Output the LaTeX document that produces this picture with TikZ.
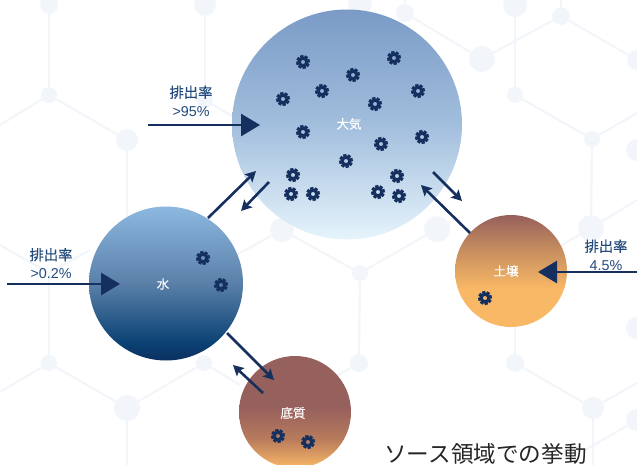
\documentclass[tikz,border=0pt]{standalone}
\usepackage{fontspec}
\setmainfont{Liberation Sans}
\newfontfamily\cjk{Noto Sans CJK JP}
\newfontfamily\cjkb[FakeBold=0.12]{Noto Sans CJK JP}
\usetikzlibrary{arrows.meta,positioning}
\definecolor{airtop}{HTML}{7A9BC6}
\definecolor{airmid}{HTML}{A2BEDD}
\definecolor{airbot}{HTML}{E6F4FB}
\definecolor{watertop}{HTML}{8DB8E0}
\definecolor{watermid}{HTML}{5A80A8}
\definecolor{waterlow}{HTML}{0B4274}
\definecolor{waterbot}{HTML}{0C2F62}
\definecolor{clay}{HTML}{96605C}
\definecolor{soilmid}{HTML}{C48C5E}
\definecolor{sedmid}{HTML}{B87B5C}
\definecolor{sandy}{HTML}{F9B866}
\definecolor{navy}{HTML}{152F5F}
\definecolor{labelblue}{HTML}{234A7C}
\definecolor{hexgrey}{HTML}{F2F5F9}
\pgfdeclareverticalshading{airfade}{100bp}{color(0bp)=(airbot); color(25bp)=(airbot); color(50bp)=(airmid); color(75bp)=(airtop); color(100bp)=(airtop)}
\pgfdeclareverticalshading{waterfade}{100bp}{color(0bp)=(waterbot); color(25bp)=(waterbot); color(31bp)=(waterlow); color(50bp)=(watermid); color(75bp)=(watertop); color(100bp)=(watertop)}
\pgfdeclareverticalshading{soilfade}{100bp}{color(0bp)=(sandy); color(42bp)=(sandy); color(60bp)=(soilmid); color(75bp)=(clay); color(100bp)=(clay)}
\pgfdeclareverticalshading{sedfade}{100bp}{color(0bp)=(sandy); color(25bp)=(sandy); color(38bp)=(sedmid); color(52bp)=(clay); color(100bp)=(clay)}
\tikzset{particle/.pic={
\foreach \ang in {0,45,...,315}
  \fill[navy,rotate=\ang+12] (-1.7,3.5) rectangle (1.7,6.9);
\fill[navy,even odd rule] (0,0) circle (5.3) (0,0) circle (2.1);
}}
\begin{document}
\begin{tikzpicture}[x=1pt,y=-1pt,>=Stealth]
\tikzstyle{hexdot}=[circle,fill=hexgrey,inner sep=0pt]
\tikzstyle{hexline}=[draw=hexgrey,line width=2pt]
\tikzstyle{sphere}=[circle,minimum size=#1,inner sep=0pt,text=white,font=\cjkb\fontsize{12.5}{14}\selectfont]
\tikzstyle{bigflow}=[draw=navy,line width=2.8pt,-{Triangle[length=19pt,width=22pt,fill=navy]}]
\tikzstyle{smallflow}=[draw=navy,line width=2.6pt,-{Stealth[length=10.5pt,width=11pt,inset=2pt,fill=navy]}]
\tikzstyle{rate}=[align=center,text=labelblue,font=\fontsize{14.3}{18.5}\selectfont,inner sep=0pt]
\useasboundingbox (0,0) rectangle (637,465);
\fill[white] (0,0) rectangle (637,465);
% faint hexagon net behind everything
\foreach \nm/\px/\py/\rad in {a/49/5/9,b/205/5/11,c/49/95/8,d/127/140/11,e/205/100/8,f/360/3/12,g/405/13/9,h/515/5/12,i/561/16/9,j/482/59/13,k/637/60/10,l/515/95/8,m/592/139/8,n/637/150/11,o/282/230/12,p/437/229/13,q/360/273/8,r/359/363/9,s/591/228/13,t/49/363/8,u/127/408/13,v/204/363/8,w/515/363/9,x/593/408/11,y/637/328/11,z/637/420/11}
  \node[hexdot,minimum size=2*\rad] (\nm) at (\px,\py) {};
\coordinate (fa) at (49,0);
\coordinate (fb) at (205,0);
\coordinate (fc) at (0,125);
\coordinate (fd) at (127,230);
\coordinate (fe) at (245,124);
\coordinate (ff) at (405,0);
\coordinate (fg) at (561,0);
\coordinate (fh) at (637,113);
\coordinate (fi) at (637,200);
\coordinate (fj) at (555,249);
\coordinate (fk) at (205,272);
\coordinate (fl) at (335,377);
\coordinate (fm) at (0,245);
\coordinate (fn) at (49,273);
\coordinate (fo) at (90,250);
\coordinate (fp) at (0,392);
\coordinate (fq) at (240,385);
\coordinate (fr) at (127,465);
\coordinate (fs) at (515,300);
\coordinate (ft) at (637,383);
\coordinate (fu) at (593,465);
\coordinate (fv) at (585,450);
\foreach \from/\to in {a/c,fa/a,b/e,fb/b,c/fc,c/d,d/fd,e/fe,g/j,ff/g,j/i,i/fg,i/k,h/l,l/m,m/fh,m/s,s/fi,s/fj,o/q,q/p,q/r,o/fk,r/fl,fm/fn,fn/t,fn/fo,t/u,v/u,t/fp,v/fq,u/fr,w/fs,w/x,x/ft,x/fu,z/fv}
  \path[hexline] (\from) -- (\to);
% compartments
\node[sphere=230pt,shading=airfade] (air) at (347,124.5) {};
\node[sphere=154pt,shading=waterfade] (water) at (166,283.5) {};
\node[sphere=112pt,shading=soilfade] (soil) at (511,271) {};
\node[sphere=112pt,shading=sedfade] (sed) at (295,412) {};
\node[sphere=10pt] (airname) at (349,124) {大気};
\node[sphere=10pt] (watername) at (163,284) {水};
\node[sphere=10pt] (soilname) at (506,271) {土壌};
\node[sphere=10pt] (sedname) at (293,413) {底質};
% particles
\foreach \px/\py in {303/62,394/58,353/75,322/91,283/99,418/91,375/104,303/132,422/137,381/144,346/161,293/175,397/176,291/194,313/194,378/192,399/196,203/258,221/285,485/298,278/436,308/442}
  \pic at (\px,\py) {particle};
% emissions
\coordinate (airin) at (148,125);
\coordinate (airtip) at (260,125);
\coordinate (waterin) at (7,284);
\coordinate (watertip) at (120,284);
\coordinate (soilin) at (637,272);
\coordinate (soiltip) at (538,272);
\path[bigflow] (airin) -- (airtip);
\path[bigflow] (waterin) -- (watertip);
\path[bigflow] (soilin) -- (soiltip);
\node[rate] (airrate) at (191,101) {{\cjkb 排出率}\\>95\%};
\node[rate] (waterrate) at (51,263.5) {{\cjkb 排出率}\\>0.2\%};
\node[rate] (soilrate) at (606,255) {{\cjkb 排出率}\\4.5\%};
% exchange between compartments
\coordinate (wa1) at (208,218);
\coordinate (wa2) at (256,171);
\coordinate (aw1) at (269,182);
\coordinate (aw2) at (241,211);
\coordinate (sa1) at (470,233);
\coordinate (sa2) at (421,185);
\coordinate (as1) at (433,172);
\coordinate (as2) at (462,201);
\coordinate (ws1) at (227,333);
\coordinate (ws2) at (274,380);
\coordinate (sw1) at (263,393);
\coordinate (sw2) at (233,365);
\foreach \from/\to in {wa1/wa2,aw1/aw2,sa1/sa2,as1/as2,ws1/ws2,sw1/sw2}
  \path[smallflow] (\from) -- (\to);
\node[text=black!85,inner sep=0pt,font=\cjk\fontsize{22.6}{24}\selectfont] (title) at (485.5,454) {ソース領域での挙動};
\end{tikzpicture}
\end{document}
